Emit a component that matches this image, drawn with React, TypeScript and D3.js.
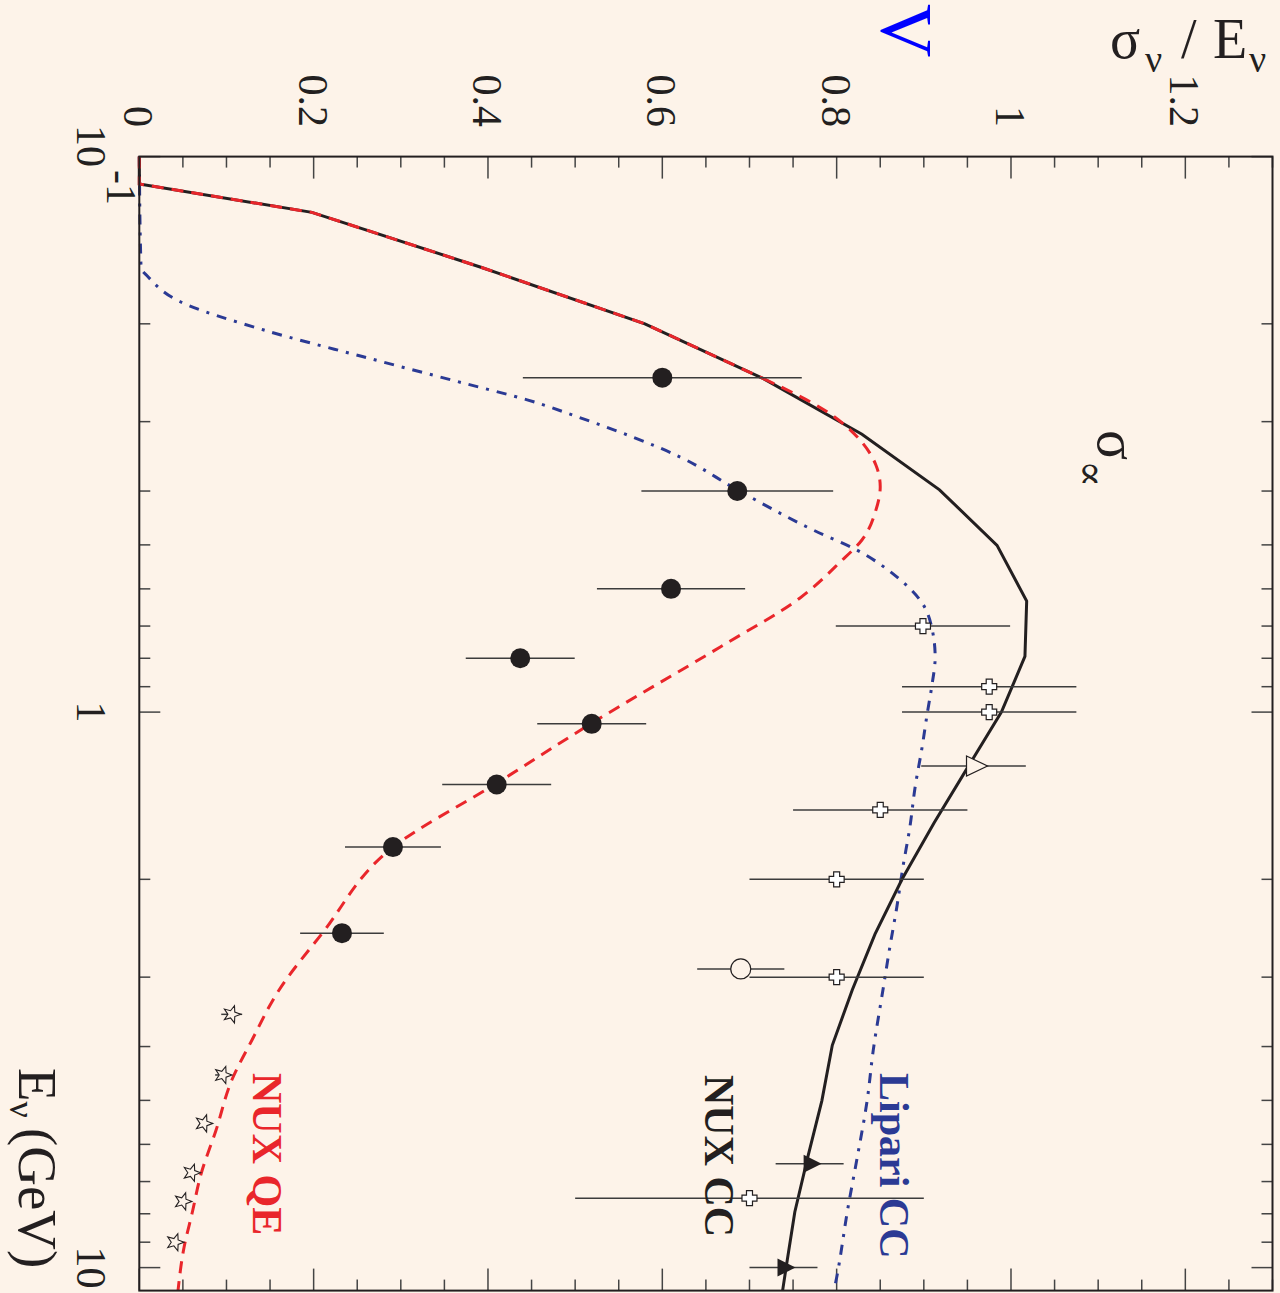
import React from "react";
import * as d3 from "d3";

const WIDTH = 1280;
const HEIGHT = 1293;
const BG = "#fdf3e9";
const RED = "#e9262b";
const NAVY = "#2b3a94";
const INK = "#231f20";
const BAR = "#3c3c3c";
const FONT = "'Liberation Serif', 'DejaVu Serif', serif";

// NUX total charged-current prediction: neutrino energy (GeV) vs sigma/E
const nuxCcEnergy = [0.1, 0.112, 0.126, 0.158, 0.2, 0.251, 0.316, 0.398, 0.501, 0.631, 0.794, 1.0, 1.26, 1.58, 2.0, 2.51, 3.16, 3.98, 5.01, 6.31, 7.94, 10.0, 11.0];
const nuxCcSigma = [0, 0, 0.198, 0.391, 0.58, 0.716, 0.829, 0.918, 0.984, 1.018, 1.016, 0.989, 0.95, 0.912, 0.875, 0.844, 0.818, 0.795, 0.783, 0.767, 0.752, 0.742, 0.738];

// NUX quasi-elastic prediction
const nuxQeEnergy = [0.1, 0.112, 0.126, 0.158, 0.2, 0.251, 0.288, 0.324, 0.359, 0.393, 0.433, 0.49, 0.537, 0.623, 0.764, 1.047, 1.343, 1.751, 2.5, 3.17, 3.9, 4.6, 5.66, 6.77, 7.99, 9.2, 11.0];
const nuxQeSigma = [0, 0, 0.198, 0.391, 0.58, 0.716, 0.789, 0.827, 0.845, 0.85, 0.845, 0.829, 0.804, 0.758, 0.666, 0.519, 0.41, 0.291, 0.21, 0.16, 0.129, 0.106, 0.088, 0.071, 0.0605, 0.0513, 0.0444];
// below this index the QE curve coincides with the total and is drawn straight
const qeSharedCount = 6;

// Lipari charged-current prediction
const lipariEnergy = [0.1, 0.1585, 0.1645, 0.1825, 0.205, 0.2293, 0.2555, 0.2741, 0.2953, 0.3471, 0.398, 0.47, 0.5106, 0.571, 0.636, 0.703, 0.796, 0.901, 1.004, 1.157, 1.365, 1.611, 1.902, 2.245, 2.65, 3.17, 4.06, 5.0, 6.41, 7.8, 10.42, 11.0];
const lipariSigma = [0, 0.002, 0.01, 0.047, 0.142, 0.257, 0.371, 0.445, 0.506, 0.62, 0.686, 0.773, 0.823, 0.869, 0.898, 0.909, 0.913, 0.909, 0.904, 0.898, 0.89, 0.884, 0.876, 0.869, 0.861, 0.853, 0.842, 0.835, 0.823, 0.813, 0.8, 0.797];

// Quasi-elastic measurements (filled circles)
const qeDataE = [0.25, 0.4, 0.6, 0.8, 1.05, 1.35, 1.75, 2.5];
const qeDataS = [0.6, 0.686, 0.61, 0.437, 0.519, 0.41, 0.291, 0.2325];
const qeDataErr = [0.16, 0.11, 0.085, 0.0625, 0.0625, 0.0625, 0.055, 0.048];

// Total charged-current measurements (open crosses)
const ccCrossE = [0.7, 0.9, 1.0, 1.5, 2.0, 3.0, 7.5];
const ccCrossS = [0.899, 0.975, 0.975, 0.85, 0.8, 0.8, 0.7];
const ccCrossErr = [0.1, 0.1, 0.1, 0.1, 0.1, 0.1, 0.2];

// Open triangle
const ccOpenTriE = [1.25];
const ccOpenTriS = [0.957];
const ccOpenTriErr = [0.06];

// Filled triangles
const ccFullTriE = [6.5, 10.0];
const ccFullTriS = [0.769, 0.739];
const ccFullTriErr = [0.039, 0.039];

// Open circle
const ccCircleE = [2.9];
const ccCircleS = [0.69];
const ccCircleErr = [0.05];

// Stars
const starE = [3.5, 4.5, 5.5, 6.75, 7.6, 9.0];
const starS = [0.106, 0.096, 0.074, 0.06, 0.05, 0.041];
const starErr = [0.012, 0.009, 0.005, 0.004, 0.003, 0.003];

// Axis labels
const sigmaTickValues = [0, 0.2, 0.4, 0.6, 0.8, 1.0, 1.2];
const sigmaTickLabels = ["0", "0.2", "0.4", "0.6", "0.8", "1", "1.2"];
const energyTickValues = [1, 10];
const energyTickLabels = ["1", "10"];

const rot = (x: number, y: number) => `translate(${x},${y}) rotate(90)`;

function starPath(R: number, r: number) {
  const pts: [number, number][] = [];
  for (let i = 0; i < 10; i++) {
    const a = (i * Math.PI) / 5;
    const rr = i % 2 === 0 ? R : r;
    pts.push([rr * Math.cos(a), rr * Math.sin(a)]);
  }
  return "M" + pts.map((p) => p.join(",")).join("L") + "Z";
}

function crossPath(a: number, w: number) {
  const p = [
    [-w, -a], [w, -a], [w, -w], [a, -w], [a, w], [w, w],
    [w, a], [-w, a], [-w, w], [-a, w], [-a, -w], [-w, -w],
  ];
  return "M" + p.map((q) => q.join(",")).join("L") + "Z";
}

export default function App() {
  const left = 139.3, right = 1272.5, top = 156.6, bottom = 1290.6;
  const eScale = d3.scaleLog().domain([0.1, 11]).range([top, bottom]);
  const sScale = d3.scaleLinear().domain([0, 1.3]).range([left, right]);

  const lin = d3.line<[number, number]>().x((d) => sScale(d[1])).y((d) => eScale(d[0]));
  const smooth = d3
    .line<[number, number]>()
    .x((d) => sScale(d[1]))
    .y((d) => eScale(d[0]))
    .curve(d3.curveMonotoneY);

  const qePairs = d3.zip(nuxQeEnergy, nuxQeSigma) as [number, number][];
  const ccPath = lin(d3.zip(nuxCcEnergy, nuxCcSigma) as [number, number][]) || "";
  const qePathA = lin(qePairs.slice(0, qeSharedCount)) || "";
  const qePathB = smooth(qePairs.slice(qeSharedCount - 1)) || "";
  const lipPath = smooth(d3.zip(lipariEnergy, lipariSigma) as [number, number][]) || "";

  const eTicks = eScale.ticks();
  const sTicks = sScale.ticks(26);

  const isDecade = (t: number) => Math.abs(Math.log10(t) - Math.round(Math.log10(t))) < 1e-6;
  const isMajorS = (v: number) => Math.abs(v / 0.2 - Math.round(v / 0.2)) < 1e-6;

  const errBars = (E: number[], S: number[], Er: number[], key: string) =>
    E.map((e, i) => (
      <line
        key={key + i}
        x1={sScale(S[i] - Er[i])}
        x2={sScale(S[i] + Er[i])}
        y1={eScale(e)}
        y2={eScale(e)}
        stroke={BAR}
        strokeWidth={1.5}
      />
    ));

  const crossD = crossPath(7.5, 3);
  const starD = starPath(9, 3.8);

  return (
    <svg
      width={WIDTH}
      height={HEIGHT}
      style={{ position: "absolute", left: 0, top: 0, display: "block" }}
      fontFamily={FONT}
    >
      <rect x={0} y={0} width={WIDTH} height={HEIGHT} fill={BG} />

      {/* unit fragment above the frame */}
      <text transform={rot(881, 4)} fontSize={74} fill="#0000ff">
        V
      </text>

      {/* sigma axis title */}
      <text y={58} fontSize={56} fill={INK}>
        <tspan x={1110}>σ</tspan>
        <tspan x={1145} dy={14} fontSize={38}>ν</tspan>
        <tspan x={1181} dy={-14}>/</tspan>
        <tspan x={1213}>E</tspan>
        <tspan x={1249} dy={14} fontSize={38}>ν</tspan>
      </text>

      {/* energy axis title */}
      <text transform={rot(19, 1068)} fontSize={55} fill={INK}>
        E<tspan dy={9} fontSize={36}>ν</tspan>
        <tspan dy={-9} dx={10}>(GeV)</tspan>
      </text>

      {/* proportionality note */}
      <text transform={rot(1098, 430)} fontSize={56} fill={INK}>
        σ<tspan dy={20} fontSize={40}>∝</tspan>
      </text>

      {/* sigma tick labels */}
      {sigmaTickValues.map((v, i) => (
        <text key={"sl" + i} transform={rot(sScale(v) - 15, 127)} textAnchor="end" fontSize={42} fill={INK}>
          {sigmaTickLabels[i]}
        </text>
      ))}

      {/* energy tick labels */}
      <text transform={rot(77, 125)} fontSize={42} fill={INK}>
        10<tspan dy={-30} dx={3}>-1</tspan>
      </text>
      {energyTickValues.map((v, i) => (
        <text key={"el" + i} transform={rot(77, eScale(v))} textAnchor="middle" fontSize={42} fill={INK}>
          {energyTickLabels[i]}
        </text>
      ))}

      {/* ticks */}
      <g stroke="#444" strokeWidth={1.5}>
        {eTicks.map((t, i) => {
          const len = isDecade(t) ? 21 : 11;
          const y = eScale(t);
          return (
            <g key={"et" + i}>
              <line x1={left} x2={left + len} y1={y} y2={y} />
              <line x1={right} x2={right - len} y1={y} y2={y} />
            </g>
          );
        })}
        {sTicks.map((v, i) => {
          const len = isMajorS(v) ? 22 : 11;
          const x = sScale(v);
          return (
            <g key={"st" + i}>
              <line x1={x} x2={x} y1={top} y2={top + len} />
              <line x1={x} x2={x} y1={bottom} y2={bottom - len} />
            </g>
          );
        })}
      </g>

      {/* curves */}
      <path d={lipPath} fill="none" stroke={NAVY} strokeWidth={3} strokeDasharray="10,8,3,8" />
      <path d={ccPath} fill="none" stroke={INK} strokeWidth={3} />
      <path d={qePathA} fill="none" stroke={RED} strokeWidth={3} strokeDasharray="12,8" />
      <path d={qePathB} fill="none" stroke={RED} strokeWidth={3} strokeDasharray="12,8" />

      {/* error bars */}
      {errBars(qeDataE, qeDataS, qeDataErr, "qe")}
      {errBars(ccCrossE, ccCrossS, ccCrossErr, "cx")}
      {errBars(ccOpenTriE, ccOpenTriS, ccOpenTriErr, "ot")}
      {errBars(ccFullTriE, ccFullTriS, ccFullTriErr, "ft")}
      {errBars(ccCircleE, ccCircleS, ccCircleErr, "oc")}
      {errBars(starE, starS, starErr, "sr")}

      {/* markers */}
      {qeDataE.map((e, i) => (
        <circle key={"qd" + i} cx={sScale(qeDataS[i])} cy={eScale(e)} r={10} fill={INK} />
      ))}
      {ccCrossE.map((e, i) => (
        <path
          key={"cm" + i}
          d={crossD}
          transform={`translate(${sScale(ccCrossS[i])},${eScale(e)})`}
          fill="#ffffff"
          stroke={INK}
          strokeWidth={1.2}
        />
      ))}
      {ccOpenTriE.map((e, i) => (
        <path
          key={"otm" + i}
          d="M-7,-10L14,0L-7,10Z"
          transform={`translate(${sScale(ccOpenTriS[i])},${eScale(e)})`}
          fill={BG}
          stroke={INK}
          strokeWidth={1.2}
        />
      ))}
      {ccFullTriE.map((e, i) => (
        <path
          key={"ftm" + i}
          d="M-6,-9L12,0L-6,9Z"
          transform={`translate(${sScale(ccFullTriS[i])},${eScale(e)})`}
          fill={INK}
        />
      ))}
      {ccCircleE.map((e, i) => (
        <circle key={"ocm" + i} cx={sScale(ccCircleS[i])} cy={eScale(e)} r={10} fill={BG} stroke={INK} strokeWidth={1.2} />
      ))}
      {starE.map((e, i) => (
        <path
          key={"sm" + i}
          d={starD}
          transform={`translate(${sScale(starS[i])},${eScale(e)})`}
          fill={BG}
          stroke={INK}
          strokeWidth={1.1}
        />
      ))}

      {/* curve labels */}
      <text transform={rot(253, 1073)} fontSize={42} fontWeight="bold" fill={RED}>
        NUX QE
      </text>
      <text transform={rot(705, 1075)} fontSize={42} fontWeight="bold" fill={INK}>
        NUX CC
      </text>
      <text transform={rot(880, 1073)} fontSize={42} fontWeight="bold" fill={NAVY}>
        Lipari CC
      </text>

      {/* frame */}
      <rect x={left} y={top} width={right - left} height={bottom - top} fill="none" stroke={INK} strokeWidth={2} />
    </svg>
  );
}
